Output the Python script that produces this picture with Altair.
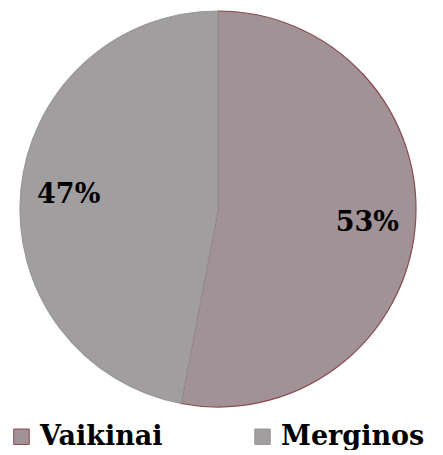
import altair as alt
import pandas as pd

categories = ["Vaikinai", "Merginos"]
values = [53, 47]
labels = ["53%", "47%"]
order = [1, 2]

df = pd.DataFrame({"cat": categories, "val": values, "label": labels, "ord": order})

fill_scale = alt.Scale(domain=categories, range=["#a09296", "#a19e9f"])
stroke_scale = alt.Scale(domain=categories, range=["#8a4a50", "#9a9696"])

base = alt.Chart(df).encode(
    theta=alt.Theta("val:Q", stack=True),
    order=alt.Order("ord:Q"),
)

pie = base.mark_arc(outerRadius=198, strokeWidth=1.2).encode(
    color=alt.Color(
        "cat:N",
        scale=fill_scale,
        sort=categories,
        title=None,
        legend=alt.Legend(
            orient="none",
            legendX=0,
            legendY=413,
            direction="horizontal",
            symbolType="square",
            symbolSize=240,
            symbolStrokeColor="#7f7b7c",
            symbolStrokeWidth=1,
            labelFont="DejaVu Serif",
            labelFontWeight="bold",
            labelFontSize=27,
            labelColor="#000000",
            labelOffset=5,
            columnPadding=86,
            labelLimit=400,
            padding=0,
        ),
    ),
    stroke=alt.Stroke("cat:N", scale=stroke_scale, legend=None),
)

text = base.mark_text(
    radius=150,
    font="DejaVu Serif",
    fontWeight="bold",
    fontSize=27,
    color="#000000",
).encode(text="label:N")

chart = (
    (pie + text)
    .properties(width=420, height=398, padding=0)
    .configure_view(stroke=None)
    .configure(background="#ffffff")
)

chart.save("out.html", embed_options={"renderer": "svg", "actions": False})
